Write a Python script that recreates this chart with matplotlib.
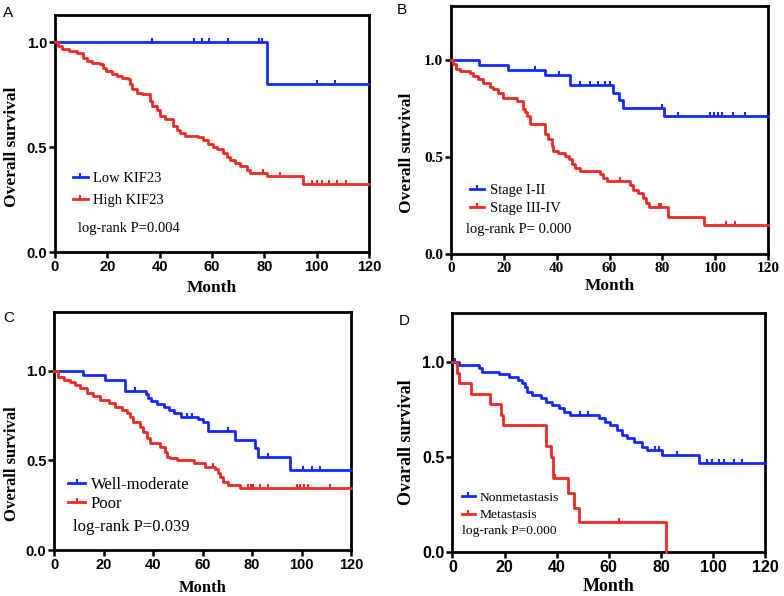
import matplotlib
matplotlib.use("Agg")
import matplotlib.pyplot as plt
from matplotlib.lines import Line2D
from matplotlib.path import Path
import numpy as np

# ---- data (month of event, survival after event, censored months) ----
# A: KIF23 expression
a_low_t = [81.0]
a_low_s = [0.80]
a_low_c = [37, 53, 56, 59, 66, 78, 79, 100, 107]
a_high_t = [1.3, 2.6, 5.5, 8.3, 10.8, 12.1, 14.0, 17.2, 18.5, 19.7, 21.7, 23.6, 25.5, 28.0, 28.7,
            29.3, 31.2, 33.1, 36.3, 36.9, 38.8, 40.1, 42.0, 45.2, 46.5, 47.8, 49.7, 54.8, 56.7,
            58.6, 60.5, 62.0, 64.0, 65.6, 66.8, 68.7, 70.6, 73.2, 74.5, 80.8, 94.8]
a_high_s = [0.982, 0.966, 0.958, 0.947, 0.927, 0.91, 0.903, 0.895, 0.879, 0.863, 0.847, 0.839, 0.831,
            0.823, 0.80, 0.775, 0.759, 0.751, 0.719, 0.695, 0.679, 0.647, 0.635, 0.60, 0.583, 0.567,
            0.555, 0.547, 0.535, 0.515, 0.503, 0.49, 0.473, 0.455, 0.44, 0.425, 0.41, 0.393, 0.377,
            0.361, 0.326]
a_high_c = [79.5, 86, 98, 100, 102, 104.5, 107.5, 111]

# B: stage
b_early_t = [10.6, 21.7, 35.6, 45.1, 61.3, 63.5, 65.0, 80.6]
b_early_s = [0.974, 0.949, 0.923, 0.872, 0.833, 0.795, 0.755, 0.71]
b_early_c = [31.8, 40.9, 48.9, 52.7, 55.8, 58.4, 60.0, 79.8, 86, 98, 99.5, 101, 102.5, 106.8, 111]
b_late_t = [0.9, 2.1, 3.4, 7.2, 8.5, 10.4, 12.3, 14.8, 16.0, 17.9, 19.8, 24.9, 27.4, 28.0, 28.7, 29.9,
            35.6, 36.9, 38.1, 38.8, 40.7, 43.2, 44.5, 45.7, 47.0, 48.9, 56.5, 57.7, 58.9, 67.8, 69.0,
            70.9, 72.8, 73.8, 74.8, 82.2, 95.6]
b_late_s = [0.979, 0.957, 0.945, 0.933, 0.916, 0.902, 0.884, 0.864, 0.85, 0.833, 0.807, 0.79, 0.75,
            0.73, 0.712, 0.669, 0.617, 0.591, 0.557, 0.531, 0.519, 0.505, 0.488, 0.462, 0.445, 0.428,
            0.41, 0.39, 0.375, 0.355, 0.332, 0.314, 0.288, 0.264, 0.24, 0.192, 0.147]
b_late_c = [63.9, 78.5, 79.5, 104, 107.5]

# C: differentiation
c_well_t = [11.8, 20.6, 28.7, 37.3, 38.1, 39.3, 41.5, 44.2, 46.5, 48.5, 51.2, 58.0, 60.0, 62.2,
            73.1, 81.2, 82.3, 95.4]
c_well_s = [0.976, 0.95, 0.89, 0.87, 0.85, 0.83, 0.815, 0.80, 0.782, 0.764, 0.745, 0.73, 0.715,
            0.667, 0.615, 0.57, 0.521, 0.447]
c_well_c = [32.6, 53.5, 55.5, 70.3, 86.5, 100.6, 104.2, 107.5]
c_poor_t = [1.75, 3.8, 6.5, 8.5, 10.5, 13.2, 15.9, 18.6, 22.0, 24.6, 27.3, 29.4, 30.7, 32.0, 34.7,
            36.1, 37.4, 38.8, 42.8, 44.8, 45.5, 46.9, 49.6, 56.3, 61.0, 65.0, 66.1, 67.1, 68.4,
            70.4, 75.1]
c_poor_s = [0.968, 0.95, 0.94, 0.922, 0.903, 0.875, 0.857, 0.838, 0.82, 0.801, 0.782, 0.764, 0.745,
            0.717, 0.689, 0.661, 0.624, 0.60, 0.577, 0.549, 0.52, 0.512, 0.503, 0.484, 0.466, 0.45,
            0.428, 0.41, 0.382, 0.363, 0.345]
c_poor_c = [64.2, 78.4, 79.5, 80.4, 83.2, 86.5, 98, 99.5, 101, 102.6, 111.5]

# D: metastasis
d_non_t = [2.6, 10.2, 11.5, 17.9, 21.7, 25.0, 26.9, 27.8, 28.8, 30.7, 33.9, 36.0, 38.4, 40.9, 42.9,
           45.0, 56.2, 58.7, 60.6, 63.1, 65.0, 67.0, 69.5, 72.7, 74.6, 80.4, 94.8]
d_non_s = [0.986, 0.968, 0.949, 0.937, 0.923, 0.907, 0.889, 0.87, 0.844, 0.826, 0.81, 0.791, 0.774,
           0.756, 0.74, 0.723, 0.704, 0.686, 0.668, 0.642, 0.616, 0.598, 0.581, 0.554, 0.537, 0.51, 0.47]
d_non_c = [1.0, 49.0, 52.0, 77.8, 79.1, 86.1, 97.7, 99.6, 102.2, 104.1, 107.9, 111.1]
d_met_t = [1.9, 2.5, 7.3, 14.4, 18.8, 19.5, 35.8, 37.7, 38.7, 44.3, 46.5, 48.7, 82.1]
d_met_s = [0.944, 0.889, 0.833, 0.778, 0.722, 0.667, 0.556, 0.50, 0.389, 0.311, 0.233, 0.156, 0.0]
d_met_c = [39.5, 64]

BLUE = "#1428ff"
RED = "#ee2a24"
SERIF = "Liberation Serif"
SANS = "Liberation Sans"

# censor tick: short vertical stroke going up from the curve
tick_mark = Path([(0, 0), (0, 1)], [Path.MOVETO, Path.LINETO])

fig = plt.figure(figsize=(7.84, 5.96), dpi=100)


def km(ax, t, s, c, color, end):
    t = np.r_[0, t, end]
    s = np.r_[1, s, s[-1]]
    if s[-2] == 0:
        t, s = t[:-1], s[:-1]
    ax.step(t, s, where="post", color=color, lw=2.0, zorder=3, clip_on=False)
    cs = np.array(s)[np.searchsorted(t, c, side="right") - 1]
    ax.plot(c, cs, ls="none", marker=tick_mark, ms=6, mew=1.5, color=color, zorder=3)


def panel(rect, curves, labels, ptext, ytop, tickfont, tsize, lsize, legpos, pt_xy,
          leglspace, ylab, ylab_xy, xlab_y, labsize):
    ax = fig.add_axes(rect)
    for (t, s, c), col in zip(curves, [BLUE, RED]):
        km(ax, t, s, c, col, 120)
    ax.set_xlim(0, 120)
    ax.set_ylim(0, ytop)
    ax.set_xticks([0, 20, 40, 60, 80, 100, 120])
    ax.set_yticks([0.0, 0.5, 1.0])
    ax.set_yticklabels(["0.0", "0.5", "1.0"])
    for sp in ax.spines.values():
        sp.set_linewidth(2.0)
    ax.tick_params(width=1.8, length=4, pad=1.5, labelsize=tsize)
    for lab in ax.get_xticklabels() + ax.get_yticklabels():
        lab.set_fontfamily(tickfont)
        lab.set_fontweight("bold")
    handles = [Line2D([], [], color=col, lw=2.0, marker=tick_mark, ms=6, mew=1.5)
               for col in [BLUE, RED]]
    ax.legend(handles, labels, loc="center left", bbox_to_anchor=legpos, frameon=False,
              prop={"family": SERIF, "size": lsize}, handlelength=1.0, handletextpad=0.35,
              borderpad=0, borderaxespad=0, labelspacing=leglspace, numpoints=1)
    ax.text(pt_xy[0], pt_xy[1], ptext, family=SERIF, fontsize=lsize, va="center", ha="left")
    ax.set_ylabel(ylab, family=SERIF, fontweight="bold", fontsize=labsize)
    ax.yaxis.set_label_coords(ylab_xy[0], ylab_xy[1])
    ax.set_xlabel("Month", family=SERIF, fontweight="bold", fontsize=labsize)
    ax.xaxis.set_label_coords(0.5, xlab_y)
    return ax


panel([0.070, 0.577, 0.401, 0.398],
      [(a_low_t, a_low_s, a_low_c), (a_high_t, a_high_s, a_high_c)],
      ["Low KIF23", "High KIF23"], "log-rank P=0.004", 1.13, SANS, 10.5, 10.5,
      (0.058, 0.263), (8.9, 0.113), 0.6, "Overall survival", (-0.112, 0.5 / 1.13), -0.118, 12.5)

panel([0.575, 0.574, 0.405, 0.416],
      [(b_early_t, b_early_s, b_early_c), (b_late_t, b_late_s, b_late_c)],
      ["Stage I-II", "Stage III-IV"], "log-rank P= 0.000", 1.28, SERIF, 11, 10.5,
      (0.060, 0.220), (5.6, 0.126), 0.35, "Overall survival", (-0.114, 0.52 / 1.28), -0.097, 12.5)

panel([0.069, 0.077, 0.379, 0.400],
      [(c_well_t, c_well_s, c_well_c), (c_poor_t, c_poor_s, c_poor_c)],
      ["Well-moderate", "Poor"], "log-rank P=0.039", 1.33, SANS, 10.5, 12,
      (0.048, 0.234), (7.7, 0.128), 0.2, "Overall survival", (-0.114, 0.48 / 1.33), -0.126, 12)

panel([0.577, 0.074, 0.399, 0.401],
      [(d_non_t, d_non_s, d_non_c), (d_met_t, d_met_s, d_met_c)],
      ["Nonmetastasis", "Metastasis"], "log-rank P=0.000", 1.26, SANS, 11.5, 9.7,
      (0.030, 0.191), (3.6, 0.109), 0.4, "Ovarall survival", (-0.118, 0.58 / 1.26), -0.109, 13)

for x, y, letter in [(0.004, 1 - 13 / 596, "A"), (0.506, 1 - 10 / 596, "B"),
                     (0.004, 1 - 318 / 596, "C"), (0.508, 1 - 321 / 596, "D")]:
    fig.text(x, y, letter, family=SANS, fontsize=11, ha="left", va="center")

fig.savefig("out.png", dpi=100)
